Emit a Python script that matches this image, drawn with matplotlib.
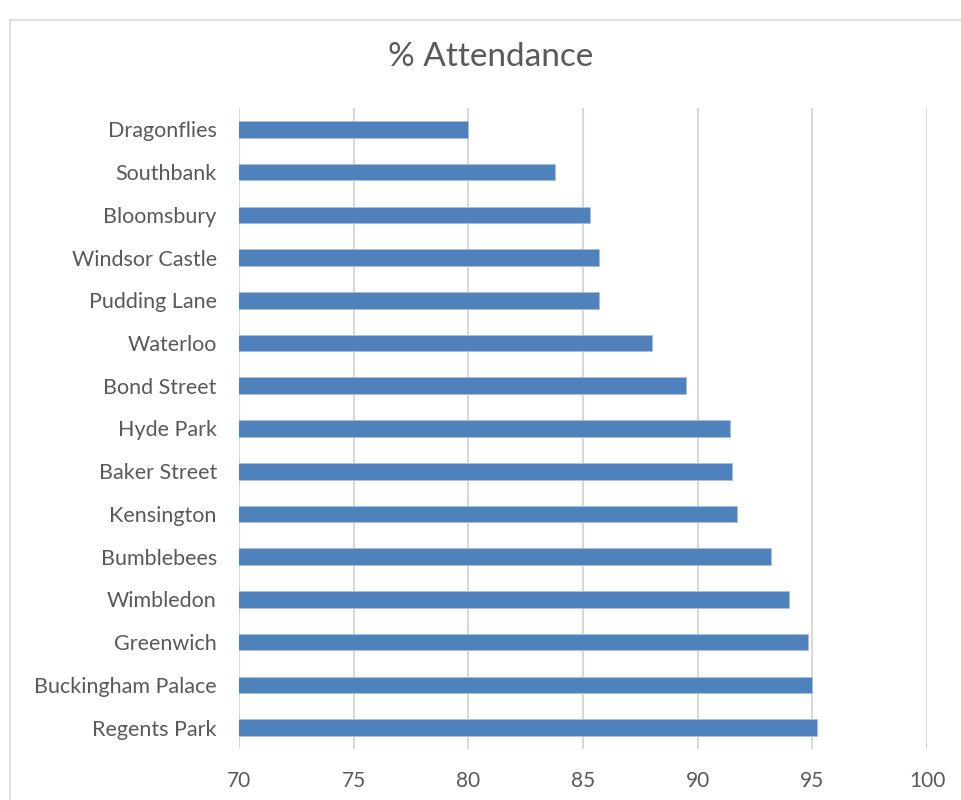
import matplotlib.pyplot as plt
import matplotlib.patches as patches

# data
schools = ['Dragonflies', 'Southbank', 'Bloomsbury', 'Windsor Castle', 'Pudding Lane',
           'Waterloo', 'Bond Street', 'Hyde Park', 'Baker Street', 'Kensington',
           'Bumblebees', 'Wimbledon', 'Greenwich', 'Buckingham Palace', 'Regents Park']
attendance = [80.0, 83.8, 85.3, 85.7, 85.7,
              88.0, 89.5, 91.4, 91.5, 91.7,
              93.2, 94.0, 94.8, 95.0, 95.2]
xticks = [70, 75, 80, 85, 90, 95, 100]

plt.rcParams['font.family'] = ['Lato', 'DejaVu Sans']
grey = '#595959'

W, H = 961, 800
fig = plt.figure(figsize=(W / 100, H / 100), dpi=100)

# chart frame
fig.patches.append(patches.Rectangle((10 / W, -0.1), 1.2, 1.1 - 20 / H,
                                     transform=fig.transFigure, fill=False,
                                     edgecolor='#d9d9d9', linewidth=1.2))

ax = fig.add_axes([239 / W, 1 - 749 / H, (927 - 239) / W, (749 - 108) / H])
y = list(range(len(schools)))
ax.barh(y, attendance, height=0.39, left=0, color='#4f81bd',
        edgecolor='#a7c0de', linewidth=0.6, zorder=3)
ax.set_xlim(70, 100)
ax.set_ylim(len(schools) - 0.5, -0.5)
ax.set_yticks(y)
ax.set_yticklabels(schools, fontsize=15.5, color=grey)
ax.set_xticks(xticks)
ax.set_xticklabels([str(t) for t in xticks], fontsize=15, color=grey)
ax.tick_params(axis='both', length=0)
ax.tick_params(axis='y', pad=16)
ax.tick_params(axis='x', pad=16)
for s in ax.spines.values():
    s.set_visible(False)
ax.grid(axis='x', color='#d9d9d9', linewidth=1.5, zorder=0)

fig.text(491 / W, 1 - 57 / H, '% Attendance', ha='center', va='center',
         fontsize=24, color=grey)

fig.savefig('out.png', dpi=100)
